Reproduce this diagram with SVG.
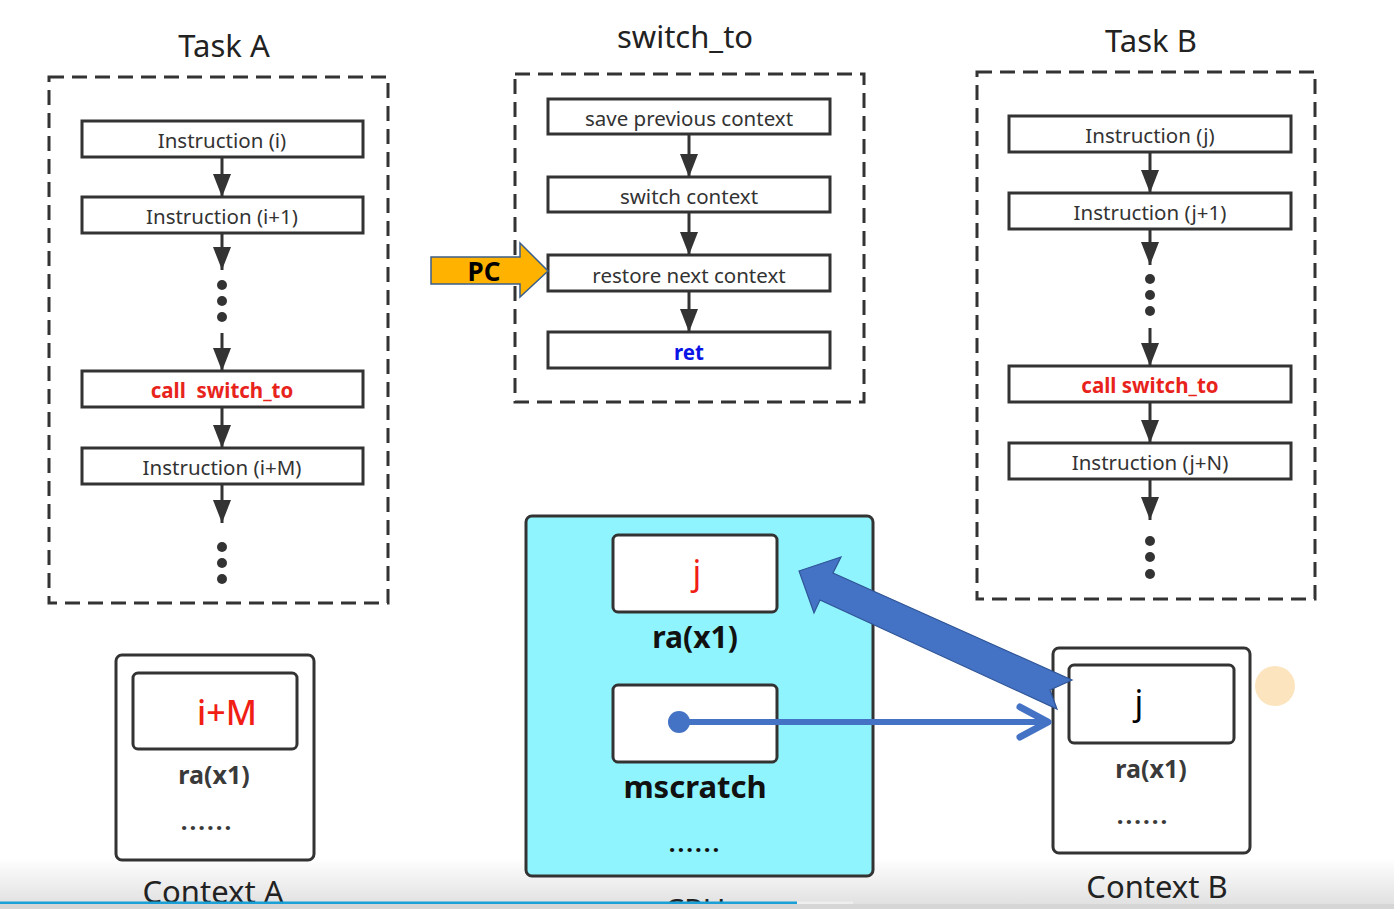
<svg xmlns="http://www.w3.org/2000/svg" width="1394" height="909" viewBox="0 0 1394 909">
<defs>
<style>
text{font-family:"Noto Sans","Open Sans","Liberation Sans",sans-serif;}
.title{font-size:31px;fill:#222;text-anchor:middle;}
.dash{fill:none;stroke:#333;stroke-width:3;stroke-dasharray:15 8;}
.box{fill:#fff;stroke:#333;stroke-width:3;}
.lbl{font-size:20.5px;fill:#333;text-anchor:middle;}
.red{font-size:20.5px;fill:#E8231B;font-weight:bold;text-anchor:middle;}
.flow{stroke:#333;stroke-width:3;fill:none;marker-end:url(#ah);}
.dot{fill:#333;}
.ctx{fill:#fff;stroke:#333;stroke-width:3;}
.reg{font-weight:bold;fill:#3a3a3a;text-anchor:middle;}
</style>
<marker id="ah" markerUnits="userSpaceOnUse" markerWidth="24" markerHeight="20" refX="23" refY="9" orient="auto">
<path d="M0,0 L23,9 L0,18 z" fill="#333"/>
</marker>
<linearGradient id="band" x1="0" y1="0" x2="0" y2="1">
<stop offset="0" stop-color="#ffffff"/>
<stop offset="1" stop-color="#dedede"/>
</linearGradient>
</defs>
<rect x="0" y="0" width="1394" height="909" fill="#fff"/>
<rect x="0" y="858" width="1394" height="51" fill="url(#band)"/>

<g id="taskA">
<text class="title" x="224" y="57">Task A</text>
<rect class="dash" x="49" y="77" width="339" height="526"/>
<rect class="box" x="82" y="121" width="281" height="36"/>
<text class="lbl" x="222" y="148">Instruction (i)</text>
<rect class="box" x="82" y="197" width="281" height="36"/>
<text class="lbl" x="222" y="224">Instruction (i+1)</text>
<circle class="dot" cx="222" cy="285" r="5"/>
<circle class="dot" cx="222" cy="301" r="5"/>
<circle class="dot" cx="222" cy="317" r="5"/>
<rect class="box" x="82" y="371" width="281" height="36"/>
<text class="red" x="222" y="398" xml:space="preserve">call  switch_to</text>
<rect class="box" x="82" y="448" width="281" height="36"/>
<text class="lbl" x="222" y="475">Instruction (i+M)</text>
<circle class="dot" cx="222" cy="547" r="5"/>
<circle class="dot" cx="222" cy="563" r="5"/>
<circle class="dot" cx="222" cy="579" r="5"/>
</g>

<g id="switchTo">
<text class="title" x="685" y="48" fill="#333">switch_to</text>
<rect class="dash" x="515" y="74" width="349" height="328"/>
<rect class="box" x="548" y="99" width="282" height="35"/>
<text class="lbl" x="689" y="126">save previous context</text>
<rect class="box" x="548" y="177" width="282" height="35"/>
<text class="lbl" x="689" y="204">switch context</text>
<rect class="box" x="548" y="255" width="282" height="36"/>
<text class="lbl" x="689" y="283">restore next context</text>
<rect class="box" x="548" y="332" width="282" height="36"/>
<text x="689" y="360" font-size="20.5" font-weight="bold" fill="#0A14E6" text-anchor="middle">ret</text>
</g>

<g id="pc">
<path d="M431,257 L520,257 L520,243 L548,271 L520,297 L520,284 L431,284 Z" fill="#FFB300" stroke="#3B5F8A" stroke-width="1.5"/>
<text x="484" y="281" font-size="26" font-weight="bold" fill="#000" text-anchor="middle">PC</text>
</g>

<g id="taskB">
<text class="title" x="1151" y="52">Task B</text>
<rect class="dash" x="977" y="72" width="338" height="527"/>
<rect class="box" x="1009" y="116" width="282" height="36"/>
<text class="lbl" x="1150" y="143">Instruction (j)</text>
<rect class="box" x="1009" y="193" width="282" height="36"/>
<text class="lbl" x="1150" y="220">Instruction (j+1)</text>
<circle class="dot" cx="1150" cy="279" r="5"/>
<circle class="dot" cx="1150" cy="295" r="5"/>
<circle class="dot" cx="1150" cy="311" r="5"/>
<rect class="box" x="1009" y="366" width="282" height="36"/>
<text class="red" x="1150" y="393">call switch_to</text>
<rect class="box" x="1009" y="443" width="282" height="36"/>
<text class="lbl" x="1150" y="470">Instruction (j+N)</text>
<circle class="dot" cx="1150" cy="541" r="5"/>
<circle class="dot" cx="1150" cy="557" r="5"/>
<circle class="dot" cx="1150" cy="574" r="5"/>
</g>

<g id="contextA">
<rect class="ctx" x="116" y="655" width="198" height="205" rx="6"/>
<rect class="ctx" x="133" y="673" width="164" height="76" rx="5"/>
<text x="227" y="725" font-size="34" font-weight="500" fill="#F01E14" text-anchor="middle">i+M</text>
<text class="reg" x="214" y="784" font-size="25">ra(x1)</text>
<text class="reg" x="207" y="830" font-size="24" letter-spacing="2">......</text>
<text class="title" x="213" y="903">Context A</text>
</g>

<g id="cpu">
<rect x="526" y="516" width="347" height="360" rx="6" fill="#90F4FE" stroke="#333" stroke-width="3"/>
<rect class="ctx" x="613" y="535" width="164" height="77" rx="5"/>
<text x="697" y="585" font-size="34" fill="#F01E14" text-anchor="middle">j</text>
<text x="695" y="648" font-size="30" font-weight="bold" fill="#111" text-anchor="middle">ra(x1)</text>
<rect class="ctx" x="613" y="685" width="164" height="77" rx="5"/>
<text x="695" y="798" font-size="31" font-weight="bold" fill="#111" text-anchor="middle">mscratch</text>
<text x="695" y="852" font-size="24" font-weight="bold" fill="#111" text-anchor="middle" letter-spacing="2">......</text>
<text class="title" x="695" y="921">CPU</text>
</g>

<g id="contextB">
<rect class="ctx" x="1053" y="648" width="197" height="205" rx="6"/>
<rect class="ctx" x="1069" y="665" width="165" height="78" rx="5"/>
<text x="1139" y="715" font-size="34" fill="#000" text-anchor="middle">j</text>
<text class="reg" x="1151" y="778" font-size="25">ra(x1)</text>
<text class="reg" x="1143" y="824" font-size="24" letter-spacing="2">......</text>
<text class="title" x="1157" y="898">Context B</text>
</g>

<circle id="marker-dot" cx="1275" cy="686" r="20" fill="#FCE4BF"/>

<g id="connectors">
<line class="flow" x1="222" y1="157" x2="222" y2="197"/>
<line class="flow" x1="222" y1="233" x2="222" y2="270"/>
<line class="flow" x1="222" y1="333" x2="222" y2="371"/>
<line class="flow" x1="222" y1="407" x2="222" y2="448"/>
<line class="flow" x1="222" y1="484" x2="222" y2="523"/>
<line class="flow" x1="689" y1="134" x2="689" y2="177"/>
<line class="flow" x1="689" y1="212" x2="689" y2="255"/>
<line class="flow" x1="689" y1="291" x2="689" y2="332"/>
<line class="flow" x1="1150" y1="152" x2="1150" y2="193"/>
<line class="flow" x1="1150" y1="229" x2="1150" y2="265"/>
<line class="flow" x1="1150" y1="328" x2="1150" y2="366"/>
<line class="flow" x1="1150" y1="402" x2="1150" y2="443"/>
<line class="flow" x1="1150" y1="479" x2="1150" y2="520"/>
<path d="M799,571 L841,557 L833,573 L1072,680 L1050,690 L1057,709 L820,600 L814,613 Z" fill="#4472C4" stroke="#2F5597" stroke-width="1.2"/>
<circle cx="679" cy="722" r="11" fill="#4472C4"/>
<line x1="679" y1="722" x2="1046" y2="722" stroke="#4472C4" stroke-width="6"/>
<path d="M1020,707 L1048,722 L1020,737" fill="none" stroke="#4472C4" stroke-width="7" stroke-linecap="round" stroke-linejoin="round"/>
</g>

<g id="player">
<rect x="0" y="904" width="1394" height="5" fill="#d6d6d6"/>
<rect x="797" y="901.5" width="56" height="2.5" fill="#eeeeee"/>
<rect x="0" y="901.5" width="797" height="2.5" fill="#1A9FD6"/>
</g>
</svg>
